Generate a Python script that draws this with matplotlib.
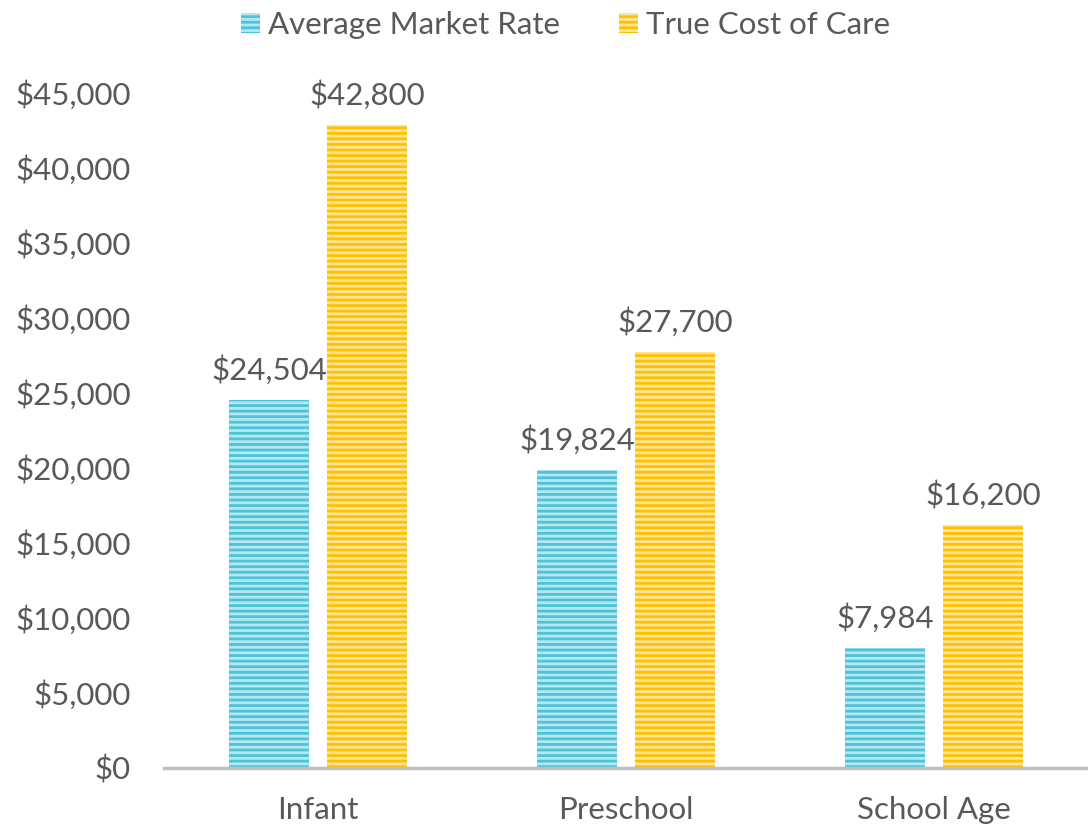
import matplotlib.pyplot as plt
import numpy as np
from matplotlib.patches import Patch

plt.rcParams['font.family'] = ['Lato', 'DejaVu Sans']
plt.rcParams['hatch.linewidth'] = 2.0

categories = ['Infant', 'Preschool', 'School Age']
market_rate = [24504, 19824, 7984]
true_cost = [42800, 27700, 16200]
series_names = ['Average Market Rate', 'True Cost of Care']
colors = ['#4BC3D8', '#FFC000']
txt = '#595959'
fs = 22.5

fig = plt.figure(figsize=(10.88, 8.3), dpi=100)
ax = fig.add_axes([0.151, 0.0747, 0.849, 0.8145])

x = np.arange(len(categories))
w = 0.259
off = 0.159
for vals, c, dx in [(market_rate, colors[0], -off), (true_cost, colors[1], off)]:
    ax.bar(x + dx, vals, w, color=c, linewidth=0, zorder=2)
    ax.bar(x + dx, vals, w, color='none', edgecolor=(1, 1, 1, 0.6),
           hatch='---', linewidth=0, zorder=3)
    for xi, v in zip(x + dx, vals):
        ax.text(xi, v + 1000, '${:,}'.format(v), ha='center', va='bottom',
                fontsize=fs, color=txt)

ax.set_xlim(-0.5, 2.5)
ax.set_ylim(0, 45000)
ax.set_yticks(np.arange(0, 45001, 5000))
ax.set_yticklabels(['${:,}'.format(t) for t in range(0, 45001, 5000)])
ax.set_xticks(x)
ax.set_xticklabels(categories)
ax.tick_params(axis='both', length=0, labelsize=fs, colors=txt)
ax.tick_params(axis='y', pad=24)
ax.tick_params(axis='x', pad=20)
for s in ['top', 'right', 'left']:
    ax.spines[s].set_visible(False)
ax.spines['bottom'].set_color('#BFBFBF')
ax.spines['bottom'].set_linewidth(2.5)
ax.spines['bottom'].set_zorder(4)

handles = [Patch(facecolor=c, edgecolor=(1, 1, 1, 0.6), hatch='---', linewidth=0)
           for c in colors]
fig.legend(handles, series_names, loc='upper center', bbox_to_anchor=(0.52, 1.021),
           ncol=2, frameon=False, fontsize=fs, labelcolor=txt,
           handlelength=0.6, handleheight=0.6, handletextpad=0.25, columnspacing=1.9)

fig.savefig('out.png', dpi=100)
